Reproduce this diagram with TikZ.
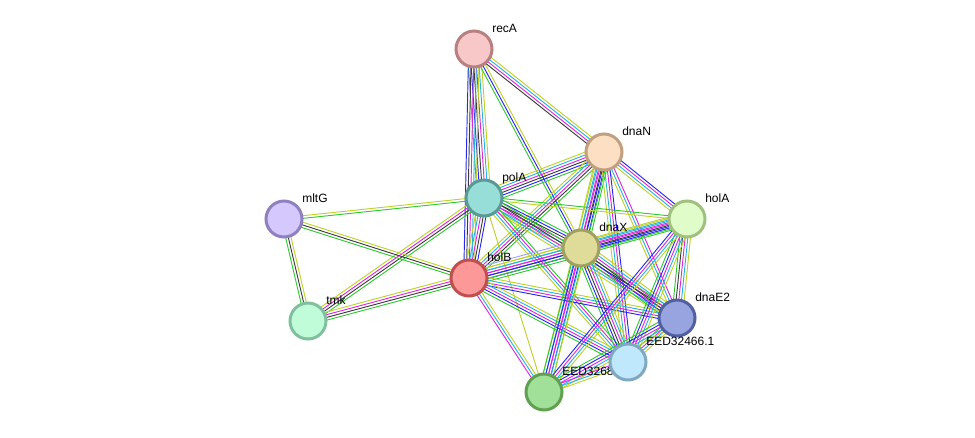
\documentclass[tikz,border=0pt]{standalone}
\usepackage{fontspec}
\setmainfont{Liberation Sans}
\usetikzlibrary{calc,backgrounds}
\definecolor{evG}{RGB}{50,200,50}
\definecolor{evB}{RGB}{40,40,240}
\definecolor{evK}{RGB}{60,60,60}
\definecolor{evM}{RGB}{220,40,220}
\definecolor{evC}{RGB}{40,180,220}
\definecolor{evY}{RGB}{190,210,40}
\definecolor{evP}{RGB}{160,160,255}

\begin{document}
\begin{tikzpicture}[x=0.75pt,y=-0.75pt,
  prot/.style={circle,line width=2.25pt,minimum size=27pt,inner sep=0pt},
  lbl/.style={font=\fontsize{9}{10}\selectfont,anchor=base west,inner sep=0pt},
  link/.style={line width=0.7pt}]
\useasboundingbox (0,0) rectangle (975,437);
% proteins, each with its name up and to the right
\foreach \nm/\px/\py/\fc/\bc/\txt in {
    recA/474/49/{rgb,255:red,248;green,200;blue,200}/{rgb,255:red,184;green,128;blue,128}/recA,
    dnaN/604/152/{rgb,255:red,253;green,224;blue,196}/{rgb,255:red,192;green,160;blue,128}/dnaN,
    polA/484/198/{rgb,255:red,152;green,222;blue,216}/{rgb,255:red,90;green,154;blue,149}/polA,
    holA/687/219/{rgb,255:red,224;green,252;blue,200}/{rgb,255:red,160;green,192;blue,128}/holA,
    mltG/284/219/{rgb,255:red,212;green,200;blue,252}/{rgb,255:red,144;green,128;blue,192}/mltG,
    dnaX/581/248/{rgb,255:red,222;green,220;blue,152}/{rgb,255:red,160;green,160;blue,96}/dnaX,
    holB/469/278/{rgb,255:red,252;green,152;blue,152}/{rgb,255:red,192;green,80;blue,80}/holB,
    tmk/308/321/{rgb,255:red,192;green,252;blue,216}/{rgb,255:red,128;green,192;blue,160}/tmk,
    dnaE2/677/318/{rgb,255:red,152;green,164;blue,224}/{rgb,255:red,80;green,96;blue,160}/dnaE2,
    eedB/544/392/{rgb,255:red,160;green,224;blue,152}/{rgb,255:red,96;green,160;blue,80}/EED3268,
    eedA/628/362/{rgb,255:red,192;green,232;blue,252}/{rgb,255:red,128;green,168;blue,192}/EED32466.1}{
  \node[prot,fill=\fc,draw=\bc] (\nm) at (\px,\py) {};
  \node[lbl] (\nm-lbl) at ($(\nm)+(18,-17)$) {\txt};
}
% evidence lines, one per channel, side by side
\begin{pgfonlayer}{background}
\foreach \a/\b/\n/\cols in {
    recA/polA/6/{evG,evB,evK,evM,evC,evY}, recA/holB/5/{evB,evK,evM,evC,evY},
    recA/dnaX/3/{evG,evB,evY}, recA/dnaN/4/{evK,evM,evC,evY},
    polA/dnaN/6/{evG,evB,evK,evM,evC,evY}, holB/dnaN/5/{evG,evK,evM,evC,evY},
    dnaX/dnaN/6/{evG,evB,evK,evM,evC,evY}, holA/dnaN/4/{evB,evM,evC,evY},
    dnaE2/dnaN/3/{evM,evC,evY}, eedA/dnaN/4/{evB,evM,evC,evY},
    eedB/dnaN/5/{evG,evB,evM,evC,evY},
    mltG/polA/2/{evG,evY}, holA/polA/2/{evG,evY},
    dnaX/polA/6/{evG,evB,evK,evM,evC,evY}, holB/polA/5/{evB,evK,evM,evC,evY},
    dnaE2/polA/5/{evG,evK,evM,evC,evY}, eedA/polA/4/{evG,evM,evC,evY},
    eedB/polA/1/{evY}, tmk/polA/4/{evG,evK,evM,evY},
    mltG/holB/3/{evG,evK,evY}, mltG/tmk/3/{evG,evK,evY},
    tmk/holB/4/{evG,evK,evM,evY},
    holB/dnaX/7/{evG,evB,evK,evM,evC,evY,evP}, holB/holA/5/{evG,evB,evM,evC,evY},
    holB/dnaE2/4/{evB,evM,evC,evY}, holB/eedA/5/{evG,evB,evM,evC,evY},
    holB/eedB/3/{evM,evC,evY},
    dnaX/holA/6/{evG,evB,evK,evM,evC,evY}, dnaX/dnaE2/6/{evG,evB,evK,evM,evC,evY},
    dnaX/eedA/6/{evG,evB,evK,evM,evC,evY}, dnaX/eedB/5/{evG,evB,evM,evC,evY},
    holA/dnaE2/5/{evG,evK,evM,evC,evY}, holA/eedA/5/{evG,evB,evM,evC,evY},
    holA/eedB/4/{evB,evM,evC,evY},
    dnaE2/eedA/4/{evG,evM,evC,evY}, dnaE2/eedB/5/{evG,evB,evM,evC,evY},
    eedA/eedB/3/{evM,evC,evY}}{
  \foreach \col [count=\k] in \cols {
    \pgfmathsetmacro\off{(\k-(\n+1)/2)*2}
    \draw[link,draw=\col] ($(\a)!\off pt!90:(\b)$) -- ($(\b)!\off pt!-90:(\a)$);
  }
}
\end{pgfonlayer}
\end{tikzpicture}
\end{document}
